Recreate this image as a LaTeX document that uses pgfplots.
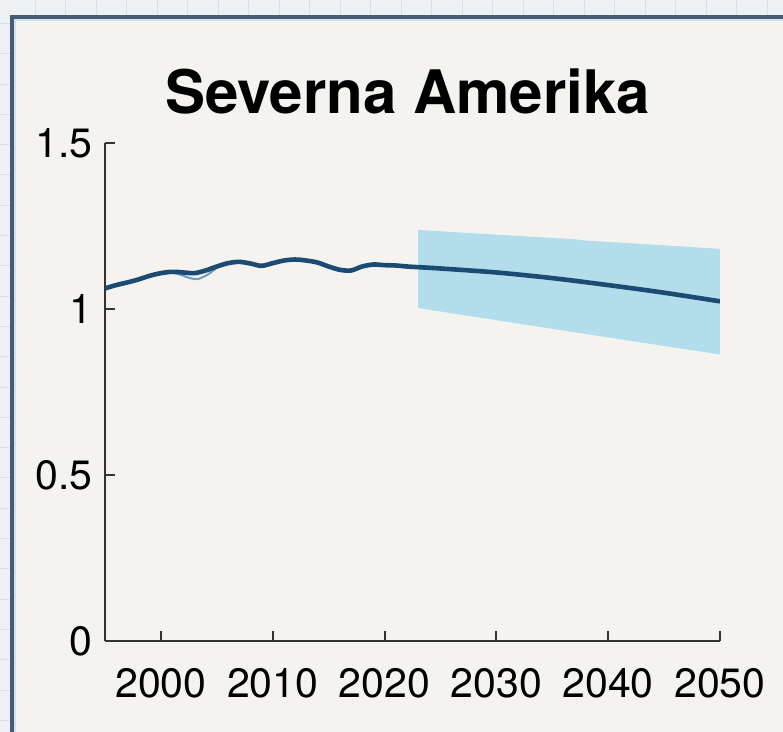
\documentclass[border=0pt]{standalone}
\usepackage{fontspec}
\setmainfont{TeX Gyre Heros}
\usepackage{pgfplots}
\pgfplotsset{compat=1.18}

\definecolor{pagebg}{HTML}{EDF1F3}
\definecolor{gridln}{HTML}{D6E0E8}
\definecolor{panelbg}{HTML}{F4F3EF}
\definecolor{frameln}{HTML}{465C72}
\definecolor{framehalo}{HTML}{CFE2EE}
\definecolor{axisln}{HTML}{333333}
\definecolor{mainline}{HTML}{1B4A72}
\definecolor{obsline}{HTML}{6E9CC2}
\definecolor{bandfill}{HTML}{B3DDEB}

\begin{document}
\begin{tikzpicture}
\useasboundingbox (0,0) rectangle (391.5pt,366pt);
% page with a faint ruled grid
\fill[pagebg] (0,0) rectangle (391.5pt,366pt);
\foreach \i in {0,...,25}
  \draw[gridln, line width=0.5pt] ({17.5pt+\i*15.25pt},0pt) -- ({17.5pt+\i*15.25pt},366pt);
\foreach \j in {0,...,24}
  \draw[gridln, line width=0.5pt] (0pt,{354.25pt-\j*15.15pt}) -- (391.5pt,{354.25pt-\j*15.15pt});
% panel
\fill[panelbg] (6pt,-2pt) rectangle (394pt,357.5pt);
\draw[framehalo, line width=1pt] (7.6pt,-2pt) -- (7.6pt,355.9pt) -- (394pt,355.9pt);
\draw[frameln, line width=1.8pt, line join=miter] (6pt,-2pt) -- (6pt,357.5pt) -- (394pt,357.5pt);

\node[anchor=base, inner sep=0pt, font=\fontsize{30}{36}\selectfont\bfseries] at (203.75pt,309pt) {Severna Amerika};

\begin{axis}[
  at={(52.5pt,45.5pt)}, anchor=south west,
  scale only axis, width=307.5pt, height=249pt,
  xmin=1995, xmax=2050, ymin=0, ymax=1.5,
  axis x line*=bottom, axis y line*=left,
  axis line style={axisln, line width=1.1pt, -},
  xtick={2000,2010,...,2050},
  ytick={0,0.5,1,1.5},
  tick align=inside, major tick length=5pt,
  tick style={axisln, line width=1pt},
  /pgf/number format/assume math mode=true,
  /pgf/number format/1000 sep={},
  tick label style={font=\fontsize{20.5}{24}\selectfont, text=black},
  xticklabel style={anchor=north, inner sep=0pt, yshift=-13.5pt},
  yticklabel style={anchor=east, inner sep=0pt, xshift=-6pt},
]
% projection range
\addplot[fill=bandfill, draw=none, forget plot] coordinates {
  (2023,1.238) (2030,1.224) (2037,1.210) (2038,1.206) (2044,1.194) (2050,1.181)
  (2050,0.863) (2036,0.935) (2023,1.003)
} -- cycle;
% second historical estimate
\addplot[obsline, line width=1pt, smooth] coordinates {
  (2000.5,1.110) (2001.5,1.106) (2002.5,1.094) (2003.3,1.090) (2004.2,1.104) (2005,1.124)
};
% historical series
\addplot[mainline, line width=2.3pt, smooth, tension=0.5] coordinates {
  (1995,1.062) (1996,1.072) (1997,1.080) (1998,1.089) (1999,1.100)
  (2000,1.108) (2001,1.112) (2002,1.110) (2003,1.108) (2004,1.116)
  (2005,1.128) (2006,1.138) (2007,1.142) (2008,1.137) (2009,1.130)
  (2010,1.138) (2011,1.146) (2012,1.149) (2013,1.146) (2014,1.140)
  (2015,1.128) (2016,1.118) (2017,1.116) (2018,1.128) (2019,1.134)
  (2020,1.132) (2021,1.131) (2022,1.128) (2023,1.126)
};
% central projection
\addplot[mainline, line width=2.3pt, smooth] coordinates {
  (2023,1.126) (2025,1.122) (2030,1.110) (2035,1.093) (2040,1.072) (2045,1.049) (2050,1.023)
};
\end{axis}
\end{tikzpicture}
\end{document}
